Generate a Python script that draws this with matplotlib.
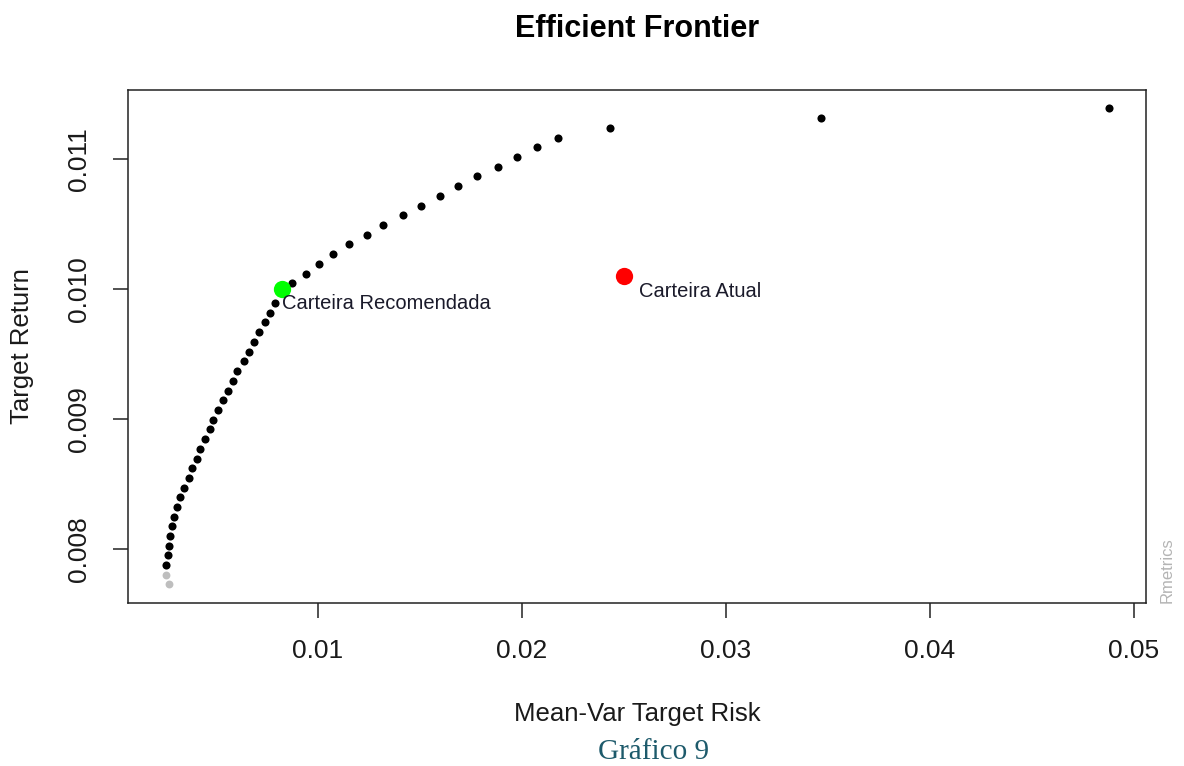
import matplotlib.pyplot as plt
import numpy as np

plt.rcParams['font.family'] = ['Liberation Sans', 'DejaVu Sans']

# frontier points (risk, return)
risk_low = [0.00271, 0.00255]
ret_low = [0.007729, 0.007802]

risk = [0.00256, 0.00263, 0.00270, 0.00276, 0.00283, 0.00293, 0.00310, 0.00325,
        0.00342, 0.00366, 0.00382, 0.00407, 0.00423, 0.00448, 0.00471, 0.00487,
        0.00510, 0.00536, 0.00557, 0.00582, 0.00604, 0.00637, 0.00660, 0.00685,
        0.00709, 0.00740, 0.00765, 0.00789, 0.00828, 0.00875, 0.00939, 0.01003,
        0.01074, 0.01152, 0.01240, 0.01320, 0.01415, 0.01503, 0.01597, 0.01685,
        0.01779, 0.01882, 0.01977, 0.02074, 0.02178, 0.02431, 0.03466, 0.04878]
ret = [0.007877, 0.007952, 0.008025, 0.008100, 0.008175, 0.008249, 0.008323, 0.008398,
       0.008472, 0.008546, 0.008621, 0.008695, 0.008769, 0.008844, 0.008921, 0.008995,
       0.009069, 0.009144, 0.009218, 0.009295, 0.009369, 0.009444, 0.009518, 0.009595,
       0.009669, 0.009744, 0.009818, 0.009895, 0.009969, 0.010044, 0.010119, 0.010192,
       0.010269, 0.010344, 0.010418, 0.010492, 0.010567, 0.010641, 0.010715, 0.010790,
       0.010867, 0.010941, 0.011015, 0.011090, 0.011165, 0.011241, 0.011315, 0.011392]

rec_risk, rec_ret = 0.00822, 0.010000   # Carteira Recomendada
cur_risk, cur_ret = 0.02500, 0.010102   # Carteira Atual

xticks = [0.01, 0.02, 0.03, 0.04, 0.05]
xlabels = ['0.01', '0.02', '0.03', '0.04', '0.05']
yticks = [0.008, 0.009, 0.010, 0.011]
ylabels = ['0.008', '0.009', '0.010', '0.011']

fig = plt.figure(figsize=(11.84, 7.66), dpi=100)
ax = fig.add_axes([0.1081, 0.2128, 0.8598, 0.6697])

ax.scatter(risk_low, ret_low, s=32, color='#bebebe', linewidths=0, zorder=3)
ax.scatter(risk, ret, s=34, color='black', linewidths=0, zorder=3)
ax.scatter([rec_risk], [rec_ret], s=155, color='#00ff00', linewidths=0, zorder=4)
ax.scatter([cur_risk], [cur_ret], s=155, color='#ff0000', linewidths=0, zorder=4)

ax.annotate('Carteira Recomendada', (rec_risk, rec_ret), xytext=(0.5, -14.6),
            textcoords='offset points', ha='left', va='baseline', fontsize=14.5,
            color='#1a1a2a', zorder=5)
ax.annotate('Carteira Atual', (cur_risk, cur_ret), xytext=(10.8, -15.1),
            textcoords='offset points', ha='left', va='baseline', fontsize=14.5,
            color='#1a1a2a', zorder=5)

ax.set_xlim(0.000686, 0.05059)
ax.set_ylim(0.007585, 0.011531)
ax.set_xticks(xticks)
ax.set_xticklabels(xlabels)
ax.set_yticks(yticks)
ax.set_yticklabels(ylabels, rotation=90, va='center')
ax.tick_params(axis='both', direction='out', length=10.8, width=1.1,
               labelsize=19, color='#222222', labelcolor='#1a1a1a')
ax.tick_params(axis='x', pad=15)
ax.tick_params(axis='y', pad=15.5)
for sp in ax.spines.values():
    sp.set_linewidth(1.1)
    sp.set_color('#222222')

ax.set_title('Efficient Frontier', fontweight='bold', fontsize=22, y=1.104, pad=0)
ax.set_xlabel('Mean-Var Target Risk', fontsize=18.5, va='center', color='#1a1a1a')
ax.xaxis.set_label_coords(0.5, -0.2164)
ax.set_ylabel('Target Return', fontsize=18.5, va='center', color='#1a1a1a')
ax.yaxis.set_label_coords(-0.1041, 0.5)

ax.text(1.0206, 0.0, 'Rmetrics', transform=ax.transAxes, rotation=90,
        ha='center', va='bottom', fontsize=12, color='#b4b4b4')

fig.text(654 / 1184, 1 - 759 / 766, 'Gráfico 9', ha='center', va='baseline',
         fontsize=21, color='#1d5a6b', family=['Liberation Serif', 'DejaVu Serif'])

fig.savefig('out.png', dpi=100)
